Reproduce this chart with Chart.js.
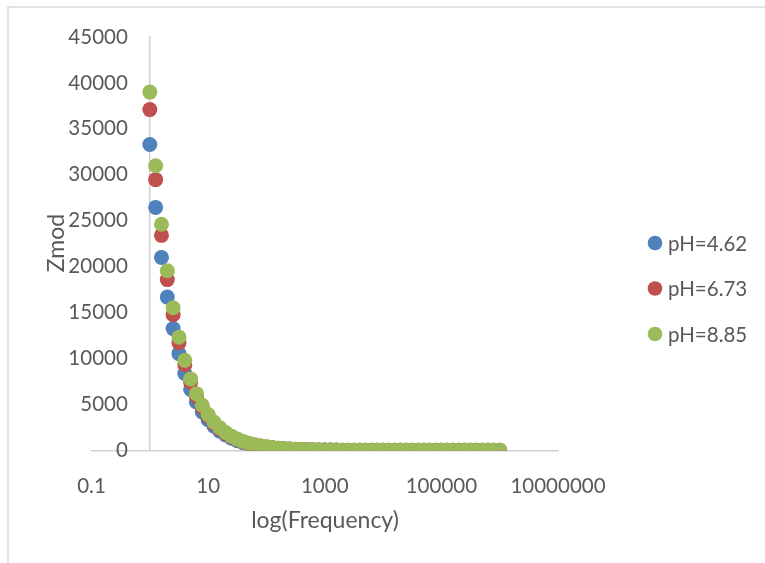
<!DOCTYPE html>
<html>
<head>
  <meta charset="UTF-8">
  <title>Zmod vs log(Frequency)</title>
  <script src="https://cdn.jsdelivr.net/npm/chart.js"></script>
  <style>
    body { margin: 0; background: #fff; }
    #wrap { position: relative; width: 765px; height: 563px; }
  </style>
</head>
<body>
<div id="wrap"><canvas id="zChart"></canvas></div>

<script>
  // frequencies (Hz), 10 points per decade
  const freq = [
    1, 1.259, 1.585, 1.995, 2.512, 3.162, 3.981, 5.012, 6.31, 7.943,
    10, 12.59, 15.85, 19.95, 25.12, 31.62, 39.81, 50.12, 63.1, 79.43,
    100, 125.9, 158.5, 199.5, 251.2, 316.2, 398.1, 501.2, 631, 794.3,
    1000, 1259, 1585, 1995, 2512, 3162, 3981, 5012, 6310, 7943,
    10000, 12590, 15850, 19950, 25120, 31620, 39810, 50120, 63100, 79430,
    100000, 125900, 158500, 199500, 251200, 316200, 398100, 501200, 631000, 794300,
    1000000
  ];

  const zmodPH462 = [
    33300, 26450, 21010, 16690, 13260, 10530, 8365, 6645, 5280, 4195,
    3330, 2645, 2101, 1669, 1326, 1053, 837, 664, 528, 420,
    333, 265, 211, 168, 134, 107, 86, 69, 56, 46,
    38, 32, 27, 23, 20, 18, 16, 15, 14, 13,
    12.5, 12, 11.6, 11.3, 11, 10.8, 10.6, 10.5, 10.4, 10.3,
    10.2, 10.1, 10, 10, 9.9, 9.9, 9.8, 9.8, 9.7, 9.7, 9.6
  ];

  const zmodPH673 = [
    37100, 29470, 23410, 18590, 14770, 11730, 9320, 7400, 5880, 4670,
    3710, 2947, 2341, 1859, 1477, 1173, 932, 740, 588, 467,
    371, 295, 235, 187, 149, 119, 95, 76, 62, 51,
    42, 35, 30, 25, 22, 19, 17, 16, 15, 14,
    13.4, 12.9, 12.5, 12.2, 11.9, 11.7, 11.5, 11.4, 11.3, 11.2,
    11.1, 11, 10.9, 10.9, 10.8, 10.8, 10.7, 10.7, 10.6, 10.6, 10.5
  ];

  const zmodPH885 = [
    39000, 30980, 24610, 19550, 15530, 12330, 9800, 7780, 6180, 4910,
    3900, 3098, 2461, 1955, 1553, 1233, 980, 778, 618, 491,
    390, 310, 247, 197, 157, 125, 100, 80, 65, 53,
    44, 37, 31, 27, 23, 21, 19, 17, 16, 15,
    14.3, 13.8, 13.3, 13, 12.7, 12.5, 12.3, 12.2, 12.1, 12,
    11.9, 11.8, 11.8, 11.7, 11.7, 11.6, 11.6, 11.5, 11.5, 11.4, 11.4
  ];

  const seriesNames = ['pH=4.62', 'pH=6.73', 'pH=8.85'];
  const seriesColors = ['#4f81bd', '#c0504d', '#9bbb59'];
  const xTicks = [0.1, 10, 1000, 100000, 10000000];
  const yCross = 1; // vertical axis crosses the log axis at 1
  const xTitle = 'log(Frequency)';
  const yTitle = 'Zmod';

  const textColor = '#595959';
  const axisColor = '#d0d0d0';
  const fontStack = 'Lato, "Open Sans", sans-serif';
  Chart.defaults.font.family = fontStack;
  Chart.defaults.color = textColor;

  function toPoints(ys) {
    return freq.map((f, i) => ({x: f, y: ys[i]}));
  }

  // outer frame, y tick labels, axis titles and the legend on the right
  const decor = {
    id: 'decor',
    beforeDraw(chart) {
      const ctx = chart.ctx;
      ctx.save();
      ctx.strokeStyle = '#d9d9d9';
      ctx.lineWidth = 1.5;
      ctx.strokeRect(8, 7, 800, 600);
      ctx.restore();
    },
    afterDraw(chart) {
      const ctx = chart.ctx;
      const xs = chart.scales.x;
      const ys = chart.scales.y;

      // y tick labels sit left of the crossing axis
      ctx.save();
      ctx.fillStyle = textColor;
      ctx.font = '20.5px ' + fontStack;
      ctx.textAlign = 'right';
      ctx.textBaseline = 'middle';
      const axisX = xs.getPixelForValue(yCross);
      ys.ticks.forEach(t => {
        ctx.fillText(String(t.value), axisX - 22, ys.getPixelForValue(t.value));
      });
      ctx.restore();

      ctx.save();
      ctx.fillStyle = textColor;
      ctx.font = '23px ' + fontStack;
      ctx.textAlign = 'center';
      ctx.textBaseline = 'middle';
      ctx.fillText(xTitle, 325, 521);
      ctx.translate(57, 243);
      ctx.rotate(-Math.PI / 2);
      ctx.fillText(yTitle, 0, 0);
      ctx.restore();

      ctx.save();
      ctx.font = '20.5px ' + fontStack;
      ctx.textAlign = 'left';
      ctx.textBaseline = 'middle';
      chart.data.datasets.forEach((ds, i) => {
        const y = 243 + i * 45.5;
        ctx.fillStyle = ds.backgroundColor;
        ctx.beginPath();
        ctx.arc(655, y, 7.3, 0, Math.PI * 2);
        ctx.fill();
        ctx.fillStyle = textColor;
        ctx.fillText(ds.label, 668, y + 1);
      });
      ctx.restore();
    }
  };

  new Chart(document.getElementById('zChart'), {
    type: 'scatter',
    data: {
      datasets: [
        {label: seriesNames[0], data: toPoints(zmodPH462), order: 3},
        {label: seriesNames[1], data: toPoints(zmodPH673), order: 2},
        {label: seriesNames[2], data: toPoints(zmodPH885), order: 1}
      ].map((ds, i) => Object.assign(ds, {
        backgroundColor: seriesColors[i],
        borderColor: seriesColors[i],
        pointRadius: 7.5,
        pointBorderWidth: 0,
        pointHoverRadius: 7.5
      }))
    },
    options: {
      responsive: true,
      maintainAspectRatio: false,
      animation: false,
      layout: {
        padding: {left: 91.5, right: 207, top: 37, bottom: 40}
      },
      plugins: {
        legend: {display: false},
        tooltip: {enabled: false}
      },
      scales: {
        x: {
          type: 'logarithmic',
          min: 0.1,
          max: 10000000,
          grid: {display: false, drawTicks: false},
          border: {display: true, color: axisColor, width: 1.5},
          afterBuildTicks: (scale) => {
            scale.ticks = xTicks.map(v => ({value: v}));
          },
          ticks: {
            autoSkip: false,
            maxRotation: 0,
            padding: 24,
            color: textColor,
            font: {size: 20.5},
            callback: (v) => String(v)
          }
        },
        y: {
          position: {x: yCross},
          min: 0,
          max: 45000,
          grid: {display: false, drawTicks: false},
          border: {display: true, color: axisColor, width: 1.5},
          ticks: {
            display: false,
            stepSize: 5000
          }
        }
      }
    },
    plugins: [decor]
  });
</script>
</body>
</html>
